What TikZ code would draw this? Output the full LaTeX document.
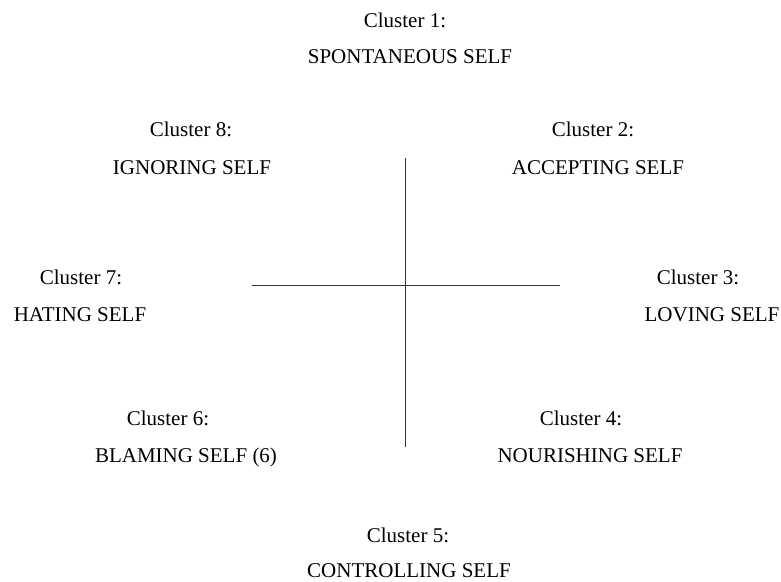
\documentclass[tikz,border=0pt]{standalone}
\usepackage{fontspec}
\setmainfont{Liberation Serif}
\begin{document}
\begin{tikzpicture}[x=1pt,y=-1pt,
  lbl/.style={anchor=base, inner sep=0pt, font=\fontsize{21}{25}\selectfont},
  axisline/.style={line width=1pt, black!80}]
\useasboundingbox (0,0) rectangle (781,581);
\node[lbl] (c1) at (405,27) {Cluster 1:};
\node[lbl] (n1) at (410,63) {SPONTANEOUS SELF};
\node[lbl] (c8) at (191,136) {Cluster 8:};
\node[lbl] (n8) at (192,174) {IGNORING SELF};
\node[lbl] (c2) at (593,136) {Cluster 2:};
\node[lbl] (n2) at (598,174) {ACCEPTING SELF};
\node[lbl] (c7) at (81,284) {Cluster 7:};
\node[lbl] (n7) at (80,321) {HATING SELF};
\node[lbl] (c3) at (698,284) {Cluster 3:};
\node[lbl] (n3) at (712,321) {LOVING SELF};
\node[lbl] (c6) at (168,425) {Cluster 6:};
\node[lbl] (n6) at (186,462) {BLAMING SELF (6)};
\node[lbl] (c4) at (581,425) {Cluster 4:};
\node[lbl] (n4) at (590,462) {NOURISHING SELF};
\node[lbl] (c5) at (408,542) {Cluster 5:};
\node[lbl] (n5) at (409,577) {CONTROLLING SELF};
\coordinate (vt) at (405.5,158);
\coordinate (vb) at (405.5,447);
\coordinate (hl) at (252,285.5);
\coordinate (hr) at (560,285.5);
\draw[axisline] (vt) -- (vb);
\draw[axisline] (hl) -- (hr);
\end{tikzpicture}
\end{document}
